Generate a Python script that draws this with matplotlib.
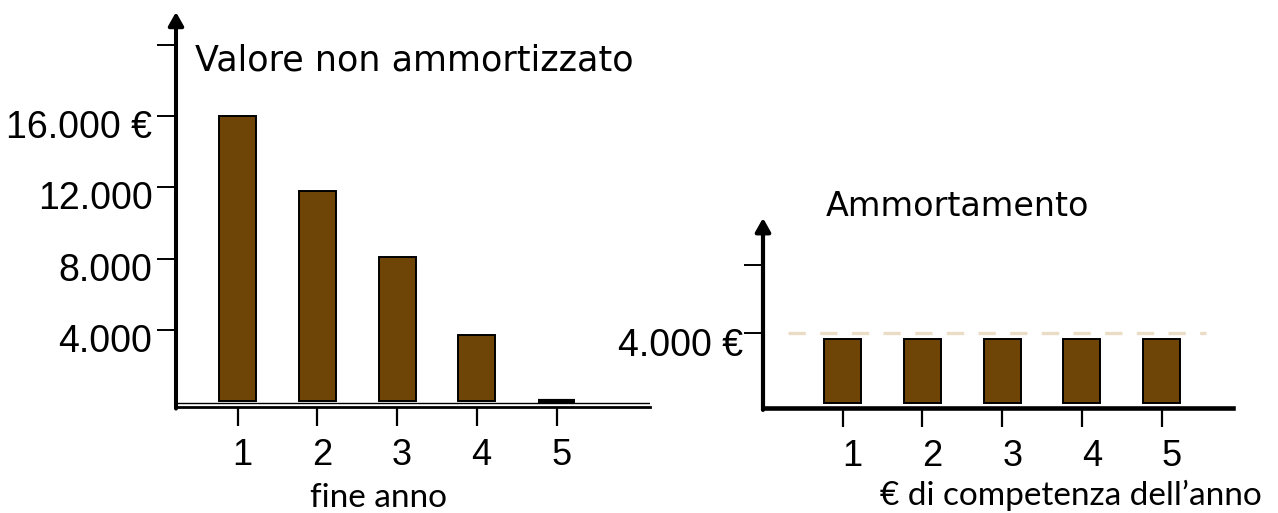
import matplotlib
matplotlib.use("Agg")
import matplotlib.pyplot as plt
from matplotlib.transforms import ScaledTranslation

# ---- data ----
anni = [1, 2, 3, 4, 5]
valore_non_ammortizzato = [16000, 11800, 8100, 3700, 0]
ammortamento = [3650, 3650, 3650, 3650, 3650]
left_yticks = [4000, 8000, 12000, 16000, 20000]
left_yticklabels = ["4.000", "8.000", "12.000", "16.000 €", ""]
right_yticks = [4000, 7900]
right_yticklabels = ["4.000 €", ""]
quota_costante = 4000

BROWN = "#6E4507"
DASH = "#EBDDC5"
NUM_FONT = "Liberation Sans"
TITLE_FONT = "DejaVu Sans"
LABEL_FONT = "Lato"

W, H = 1278, 513
fig = plt.figure(figsize=(W / 100, H / 100), dpi=100)


def fx(px):
    return px / W


def fy(px):
    return 1 - px / H


# ---------------- left panel ----------------
axL = fig.add_axes([fx(176), fy(407), fx(650 - 176), fy(12) - fy(407)])
axL.bar(anni, valore_non_ammortizzato, width=0.464, color=BROWN,
        edgecolor="black", linewidth=[1.4, 1.4, 1.4, 1.4, 3.0], zorder=3)
axL.set_xlim(0.226, 6.17)
axL.set_ylim(-366, 21887)
axL.axhline(-158, color="black", lw=1.0, zorder=4)
for s in ["top", "right", "left"]:
    axL.spines[s].set_visible(False)
axL.spines["bottom"].set_linewidth(2.0)
axL.annotate("", xy=(0, 1.0), xytext=(0, -0.004), xycoords="axes fraction",
             arrowprops=dict(arrowstyle="-|>,head_length=0.8,head_width=0.45",
                             lw=2.9, color="black", mutation_scale=10,
                             shrinkA=0, shrinkB=0))
axL.set_xticks(anni)
axL.set_xticklabels([str(a) for a in anni], fontsize=26, family=NUM_FONT)
axL.tick_params(axis="x", length=14, width=1.6, pad=8, direction="out")
axL.set_yticks(left_yticks)
axL.set_yticklabels(left_yticklabels, fontsize=27, family=NUM_FONT)
axL.tick_params(axis="y", length=14, width=1.4, pad=3, direction="out")
for lab in axL.get_yticklabels():
    lab.set_transform(lab.get_transform() + ScaledTranslation(0, -8 / 100, fig.dpi_scale_trans))
for lab in axL.get_xticklabels():
    lab.set_transform(lab.get_transform() + ScaledTranslation(4.5 / 100, 0, fig.dpi_scale_trans))

fig.text(fx(414), fy(71), "Valore non ammortizzato", ha="center", va="baseline",
         fontsize=25.2, family=TITLE_FONT)
fig.text(fx(378), fy(507), "fine anno", ha="center", va="baseline",
         fontsize=24, family=LABEL_FONT)

# ---------------- right panel ----------------
axR = fig.add_axes([fx(763), fy(408), fx(1233 - 763), fy(218) - fy(408)])
axR.bar(anni, ammortamento, width=0.464, color=BROWN, edgecolor="black",
        linewidth=1.4, zorder=3)
axR.set_xlim(0.0, 5.894)
axR.set_ylim(-286, 10571)
axR.axhline(quota_costante, xmin=(0.31 - 0.0) / 5.894, xmax=(5.55) / 5.894,
            color=DASH, lw=2.4, linestyle=(0, (5.2, 4.3)), dash_capstyle="butt", zorder=2)
for s in ["top", "right", "left"]:
    axR.spines[s].set_visible(False)
axR.spines["bottom"].set_linewidth(3.3)
axR.annotate("", xy=(0, 1.0), xytext=(0, -0.01), xycoords="axes fraction",
             arrowprops=dict(arrowstyle="-|>,head_length=0.8,head_width=0.45",
                             lw=3.0, color="black", mutation_scale=10,
                             shrinkA=0, shrinkB=0))
axR.set_xticks(anni)
axR.set_xticklabels([str(a) for a in anni], fontsize=26, family=NUM_FONT)
axR.tick_params(axis="x", length=14, width=1.6, pad=8, direction="out")
axR.set_yticks(right_yticks)
axR.set_yticklabels(right_yticklabels, fontsize=27, family=NUM_FONT)
axR.tick_params(axis="y", length=14, width=1.4, pad=0, direction="out")
for lab in axR.get_yticklabels():
    lab.set_transform(lab.get_transform() + ScaledTranslation(0, -9 / 100, fig.dpi_scale_trans))
for lab in axR.get_xticklabels():
    lab.set_transform(lab.get_transform() + ScaledTranslation(10 / 100, 0, fig.dpi_scale_trans))

fig.text(fx(957), fy(216), "Ammortamento", ha="center", va="baseline",
         fontsize=24, family=TITLE_FONT)
fig.text(fx(1071), fy(505), "€ di competenza dell’anno", ha="center", va="baseline",
         fontsize=24, family=LABEL_FONT)

fig.savefig("out.png", dpi=100, facecolor="white")
